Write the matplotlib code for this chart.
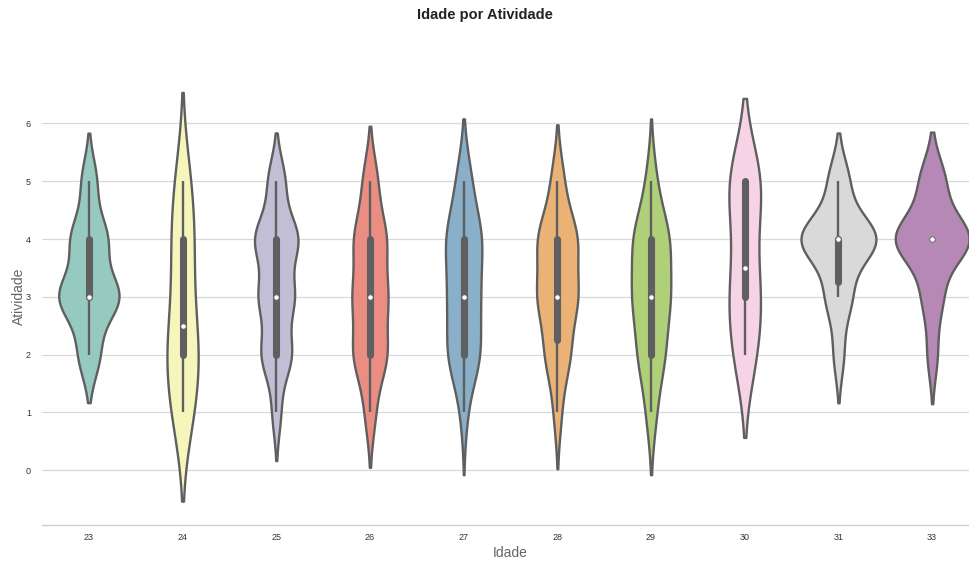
import colorsys
import numpy as np
import pandas as pd
import matplotlib
matplotlib.use("Agg")
import matplotlib.pyplot as plt
import matplotlib.colors as mcolors
import seaborn as sns

# ---- data: number of answers per Atividade level (1..5) for each Idade ----
ages = ["23", "24", "25", "26", "27", "28", "29", "30", "31", "33"]
levels = [1, 2, 3, 4, 5]
counts_23 = [0, 7, 20, 12, 5]
counts_24 = [4, 6, 3, 4, 3]
counts_25 = [9, 32, 37, 46, 18]
counts_26 = [7, 23, 23, 22, 10]
counts_27 = [2, 11, 10, 12, 5]
counts_28 = [3, 10, 16, 16, 5]
counts_29 = [3, 8, 11, 11, 3]
counts_30 = [0, 3, 4, 2, 5]
counts_31 = [0, 2, 5, 15, 4]
counts_33 = [0, 2, 4, 15, 5]
yticks = [0, 1, 2, 3, 4, 5, 6]

all_counts = [counts_23, counts_24, counts_25, counts_26, counts_27,
              counts_28, counts_29, counts_30, counts_31, counts_33]

rows = []
for age, cnt in zip(ages, all_counts):
    for lvl, c in zip(levels, cnt):
        rows += [(age, lvl)] * c
df = pd.DataFrame(rows, columns=["Idade", "Atividade"])

# ---- style ----
sns.set_theme(style="whitegrid")
plt.rcParams["font.family"] = ["Liberation Sans", "DejaVu Sans"]
plt.rcParams["grid.color"] = "#d9d9d9"
plt.rcParams["grid.linewidth"] = 0.9

fig = plt.figure(figsize=(9.69, 5.61), dpi=100)
ax = fig.add_axes([42 / 969, 36 / 561, (979 - 42) / 969, (525 - 68) / 561])

palette = sns.color_palette("Set3", len(ages))
sat_pal = [sns.desaturate(c, 0.75) for c in palette]
lum = min(colorsys.rgb_to_hls(*c)[1] for c in sat_pal) * 0.6
gray = mcolors.rgb2hex((lum, lum, lum))
lw = 1.7

try:
    sns.violinplot(data=df, x="Idade", y="Atividade", hue="Idade", order=ages,
                   hue_order=ages, palette="Set3", inner=None, density_norm="area",
                   common_norm=True, linewidth=lw, linecolor=gray, legend=False,
                   ax=ax)
except TypeError:
    sns.violinplot(data=df, x="Idade", y="Atividade", order=ages,
                   palette="Set3", inner=None, scale="area", linewidth=lw, ax=ax)

for coll in ax.collections:
    coll.set_edgecolor(gray)
    coll.set_linewidth(lw)

# inner box (classic seaborn style): whiskers, thick IQR box, white median dot
for i, age in enumerate(ages):
    vals = df.loc[df["Idade"] == age, "Atividade"].to_numpy(dtype=float)
    q25, q50, q75 = np.percentile(vals, [25, 50, 75])
    wl = 1.5 * (q75 - q25)
    h1 = vals[vals >= q25 - wl].min()
    h2 = vals[vals <= q75 + wl].max()
    ax.plot([i, i], [h1, h2], color=gray, lw=lw, solid_capstyle="butt", zorder=3)
    if q75 > q25:
        ax.plot([i, i], [q25, q75], color=gray, lw=lw * 3.0,
                solid_capstyle="round", zorder=3)
    ax.scatter([i], [q50], s=(lw * 2.3) ** 2, color="white", edgecolor=gray,
               linewidth=0.6, zorder=4)

ax.set_ylim(-0.95, 6.96)
ax.set_xlim(-0.5, len(ages) - 0.5)
ax.set_yticks(yticks)
ax.grid(axis="x", visible=False)
ax.grid(axis="y", visible=True)
sns.despine(ax=ax, left=True)
ax.spines["bottom"].set_color("#cccccc")
ax.spines["bottom"].set_linewidth(1.0)

ax.tick_params(axis="x", labelsize=6.5, colors="#333333", length=0, pad=6)
ax.tick_params(axis="y", labelsize=6.5, colors="#333333", length=0, pad=8)
ax.set_xlabel("Idade", fontsize=10, color="#666666", labelpad=2.5)
ax.set_ylabel("Atividade", fontsize=10, color="#666666", labelpad=0)
fig.text(0.5, 1 - 15 / 561, "Idade por Atividade", ha="center", va="center",
         fontsize=10.5, fontweight="bold", color="#222222")

fig.savefig("out.png", dpi=100)
